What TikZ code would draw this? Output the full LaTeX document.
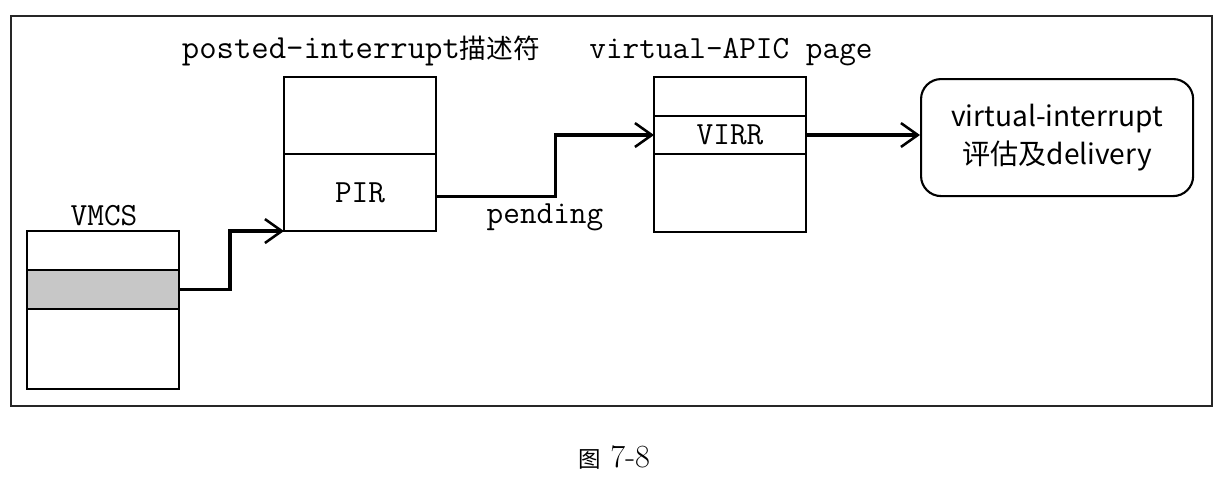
\documentclass[tikz,border=0pt]{standalone}
\usepackage{fontspec}
\newfontfamily\cjk{Noto Sans CJK SC}
\usetikzlibrary{arrows.meta, positioning}
\tikzset{
  cell/.style={draw=black, line width=1.5pt, minimum width=3.8cm,
               inner sep=0pt, outer sep=0pt, font=\fontsize{23}{26}\selectfont\ttfamily},
  shaded/.style={cell, fill=black!22},
  title/.style={inner sep=0pt, font=\fontsize{23}{26}\selectfont\ttfamily},
  link/.style={line width=2.2pt, -{Straight Barb[length=12pt, width=17pt, line width=1.8pt]}},
}
\begin{document}
\begin{tikzpicture}[x=0.025cm, y=-0.025cm]
    \useasboundingbox (0,0) rectangle (1228,500);
    \draw[line width=1.4pt, black!85] (11,16) rectangle (1212,406);
    %% VMCS: three rows, the middle one shaded
    \node[cell, minimum height=0.975cm, anchor=north west] (v1) at (27,231) {};
    \node[shaded, minimum height=0.975cm, below=0pt of v1] (v2) {};
    \node[cell, minimum height=2cm, below=0pt of v2] (v3) {};
    \node[title, anchor=base] (vlbl) at (104,225) {VMCS};
    %% posted-interrupt descriptor
    \node[cell, minimum height=1.925cm, anchor=north west] (p1) at (284,77) {};
    \node[cell, minimum height=1.925cm, below=0pt of p1] (p2) {PIR};
    \node[title, anchor=base] (plbl) at (361,58)
      {\fontsize{24}{26}\selectfont posted-interrupt{\cjk\fontsize{19}{20}\selectfont 描述符}};
    %% virtual-APIC page
    \node[cell, minimum height=0.975cm, anchor=north west] (r1) at (654,77) {};
    \node[cell, minimum height=0.95cm, below=0pt of r1] (r2) {VIRR};
    \node[cell, minimum height=1.95cm, below=0pt of r2] (r3) {};
    \node[title, anchor=base] (rlbl) at (731,58) {virtual-APIC page};
    %% evaluation and delivery
    \node[draw=black, line width=1.5pt, rounded corners=0.5cm, minimum width=6.8cm,
          minimum height=2.925cm, anchor=north west, align=center,
          font=\cjk\fontsize{20}{27}\selectfont] (eval) at (920,78)
      {virtual-interrupt\\评估及delivery};
    %% connectors
    \draw[link] (v2.east) -- ++(51,0) |- (p2.south west);
    \draw[link] ([yshift=-3pt]p2.east) -- ++(119,0) |- (r2.west);
    \node[title, anchor=base] (pend) at (545,223) {pending};
    \draw[link] (r2.east) -- (r2.east -| eval.west);
    %% caption
    \node[anchor=base, inner sep=0pt, font=\fontsize{23}{26}\selectfont] (cap) at (614,467)
      {{\cjk\fontsize{16}{18}\selectfont 图}\ 7-8};
\end{tikzpicture}
\end{document}
